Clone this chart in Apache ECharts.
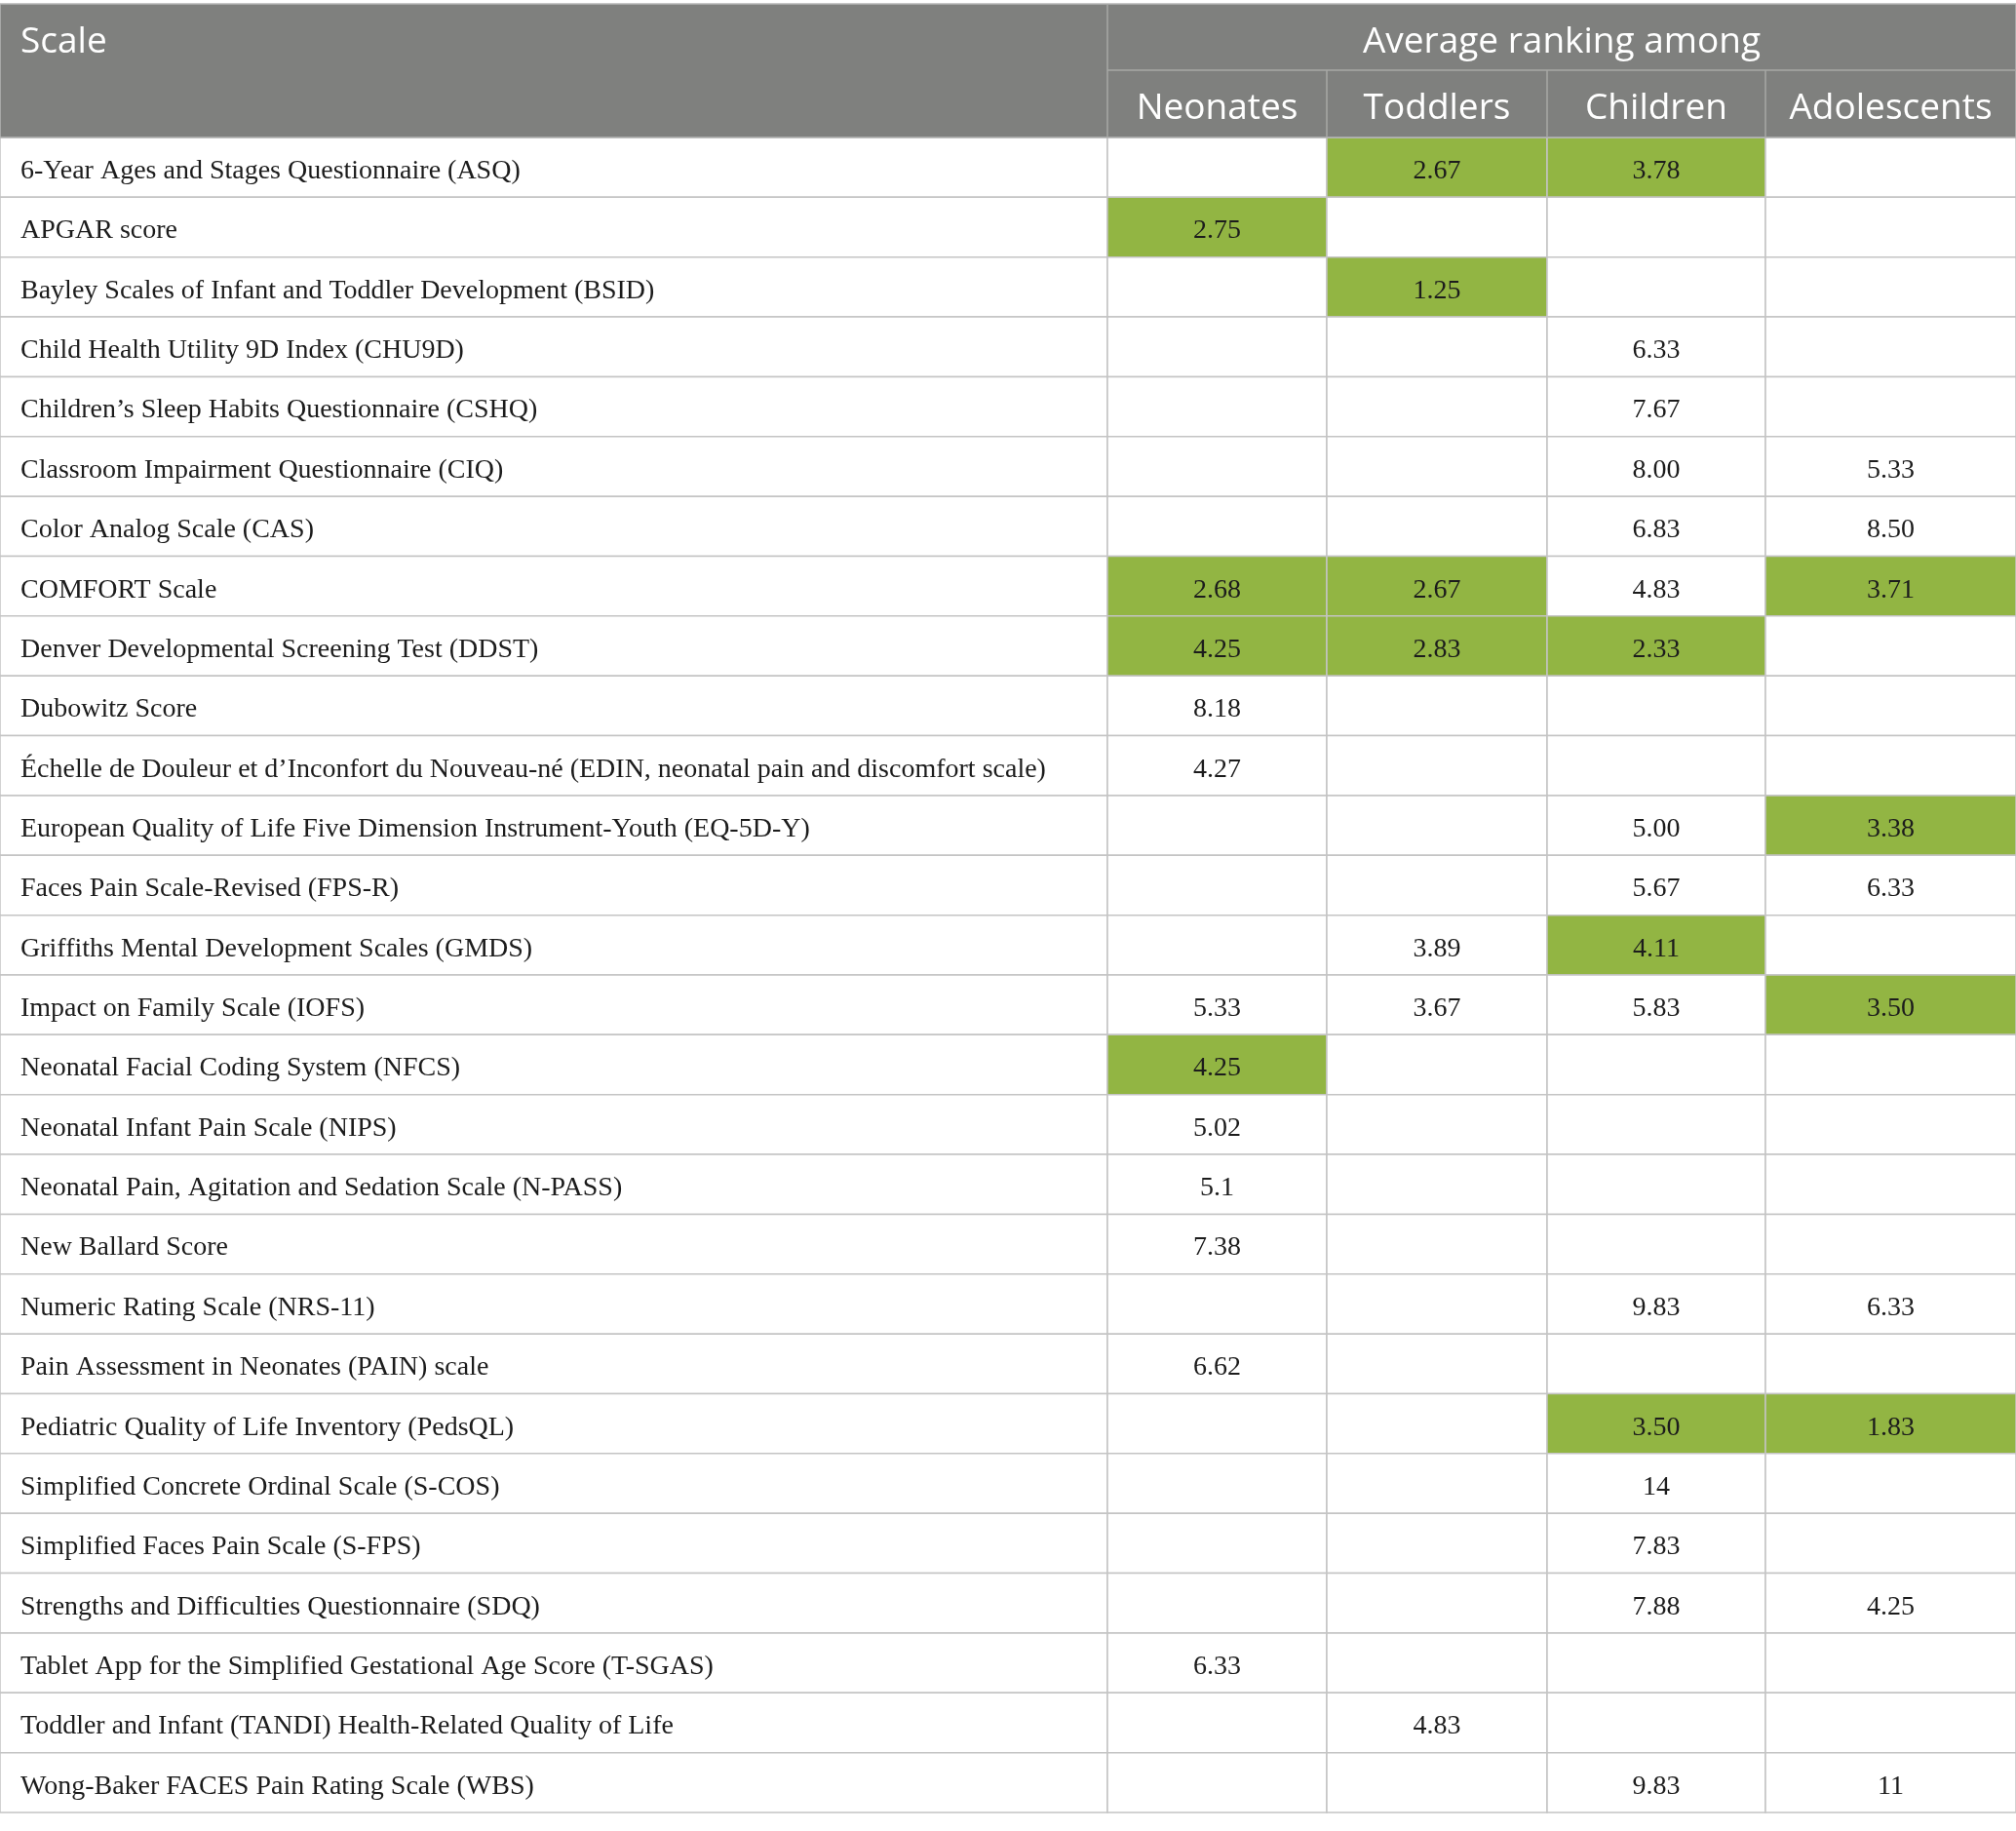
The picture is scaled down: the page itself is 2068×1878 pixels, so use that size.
<!DOCTYPE html>
<html>
<head>
<meta charset="utf-8">
<title>Average ranking of scales by age group</title>
<script type="text/javascript" src="https://cdn.jsdelivr.net/npm/echarts@6/dist/echarts.min.js"></script>
<style>
  html, body { margin: 0; padding: 0; background: #fff; }
  #table { width: 2068px; height: 1878px; }
</style>
</head>
<body>
<div id="table"></div>
<script type="text/javascript">
    // row labels (scales)
    var scales = [
        '6-Year Ages and Stages Questionnaire (ASQ)',
        'APGAR score',
        'Bayley Scales of Infant and Toddler Development (BSID)',
        'Child Health Utility 9D Index (CHU9D)',
        'Children\u2019s Sleep Habits Questionnaire (CSHQ)',
        'Classroom Impairment Questionnaire (CIQ)',
        'Color Analog Scale (CAS)',
        'COMFORT Scale',
        'Denver Developmental Screening Test (DDST)',
        'Dubowitz Score',
        '\u00c9chelle de Douleur et d\u2019Inconfort du Nouveau-n\u00e9 (EDIN, neonatal pain and discomfort scale)',
        'European Quality of Life Five Dimension Instrument-Youth (EQ-5D-Y)',
        'Faces Pain Scale-Revised (FPS-R)',
        'Griffiths Mental Development Scales (GMDS)',
        'Impact on Family Scale (IOFS)',
        'Neonatal Facial Coding System (NFCS)',
        'Neonatal Infant Pain Scale (NIPS)',
        'Neonatal Pain, Agitation and Sedation Scale (N-PASS)',
        'New Ballard Score',
        'Numeric Rating Scale (NRS-11)',
        'Pain Assessment in Neonates (PAIN) scale',
        'Pediatric Quality of Life Inventory (PedsQL)',
        'Simplified Concrete Ordinal Scale (S-COS)',
        'Simplified Faces Pain Scale (S-FPS)',
        'Strengths and Difficulties Questionnaire (SDQ)',
        'Tablet App for the Simplified Gestational Age Score (T-SGAS)',
        'Toddler and Infant (TANDI) Health-Related Quality of Life',
        'Wong-Baker FACES Pain Rating Scale (WBS)'
    ];

    var groups = ['Neonates', 'Toddlers', 'Children', 'Adolescents'];

    // average ranking per group, as printed (null = empty cell)
    var neonates = [null, '2.75', null, null, null, null, null, '2.68', '4.25', '8.18',
        '4.27', null, null, null, '5.33', '4.25', '5.02', '5.1', '7.38', null,
        '6.62', null, null, null, null, '6.33', null, null];
    var toddlers = ['2.67', null, '1.25', null, null, null, null, '2.67', '2.83', null,
        null, null, null, '3.89', '3.67', null, null, null, null, null,
        null, null, null, null, null, null, '4.83', null];
    var children = ['3.78', null, null, '6.33', '7.67', '8.00', '6.83', '4.83', '2.33', null,
        null, '5.00', '5.67', '4.11', '5.83', null, null, null, null, '9.83',
        null, '3.50', '14', '7.83', '7.88', null, null, '9.83'];
    var adolescents = [null, null, null, null, null, '5.33', '8.50', '3.71', null, null,
        null, '3.38', '6.33', null, '3.50', null, null, null, null, '6.33',
        null, '1.83', null, null, '4.25', null, null, '11'];

    // highlighted (green) cells, 1 = highlighted
    var neonatesTop =    [0,1,0,0,0,0,0,1,1,0, 0,0,0,0,0,1,0,0,0,0, 0,0,0,0,0,0,0,0];
    var toddlersTop =    [1,0,1,0,0,0,0,1,1,0, 0,0,0,0,0,0,0,0,0,0, 0,0,0,0,0,0,0,0];
    var childrenTop =    [1,0,0,0,0,0,0,0,1,0, 0,0,0,1,0,0,0,0,0,0, 0,1,0,0,0,0,0,0];
    var adolescentsTop = [0,0,0,0,0,0,0,1,0,0, 0,1,0,0,1,0,0,0,0,0, 0,1,0,0,0,0,0,0];

    var groupValues = [neonates, toddlers, children, adolescents];
    var groupTop = [neonatesTop, toddlersTop, childrenTop, adolescentsTop];

    // layout (px)
    var colEdges = [0, 1136, 1361, 1587, 1811, 2068];
    var headTop = 4, headMid = 72, bodyTop = 141, bodyBottom = 1859;

    var GREEN = '#92b543';
    var HEAD = '#7f807e';
    var LINE = '#c4c4c4';
    var HEADLINE = '#a7a8a6';
    var serif = '28px "Liberation Serif", "DejaVu Serif", serif';
    var sans = '37px "Open Sans", "Noto Sans", sans-serif';

    var grids = [], xAxes = [], yAxes = [], series = [];

    for (var c = 0; c < 5; c++) {
        grids.push({
            left: colEdges[c],
            top: bodyTop,
            width: colEdges[c + 1] - colEdges[c],
            height: bodyBottom - bodyTop
        });
        xAxes.push({
            type: 'category', gridIndex: c, show: false,
            data: [c === 0 ? 'Scale' : groups[c - 1]]
        });
        yAxes.push({
            type: 'category', gridIndex: c, show: false, inverse: true,
            data: scales
        });
        series.push({
            type: 'custom',
            xAxisIndex: c,
            yAxisIndex: c,
            encode: { x: 0, y: 1 },
            data: scales.map(function (s, r) { return [0, r]; }),
            renderItem: (function (col) {
                return function (params, api) {
                    var r = params.dataIndex;
                    var p = api.coord([0, r]);
                    var size = api.size([1, 1]);
                    var x = p[0] - size[0] / 2, y = p[1] - size[1] / 2;
                    var text, fill = '#fff', align = 'center', tx = p[0];
                    if (col === 0) {
                        text = scales[r];
                        align = 'left';
                        tx = x + 21;
                    } else {
                        text = groupValues[col - 1][r] || '';
                        if (groupTop[col - 1][r]) fill = GREEN;
                    }
                    return {
                        type: 'group',
                        children: [{
                            type: 'rect',
                            shape: { x: x, y: y, width: size[0], height: size[1] },
                            style: { fill: fill, stroke: LINE, lineWidth: 1.5 }
                        }, {
                            type: 'text',
                            style: {
                                text: text, x: tx, y: p[1] + 4,
                                font: serif, fill: '#1c1c1c',
                                align: align, verticalAlign: 'middle'
                            }
                        }]
                    };
                };
            })(c)
        });
    }

    // header band
    var graphic = [{
        type: 'rect', z: 10,
        shape: { x: 0, y: headTop, width: colEdges[5], height: bodyTop - headTop },
        style: { fill: HEAD, stroke: '#b5b5b5', lineWidth: 1.5 }
    }, {
        type: 'line', z: 11,
        shape: { x1: colEdges[1], y1: headTop, x2: colEdges[1], y2: bodyTop },
        style: { stroke: HEADLINE, lineWidth: 1.5 }
    }, {
        type: 'line', z: 11,
        shape: { x1: colEdges[1], y1: headMid, x2: colEdges[5], y2: headMid },
        style: { stroke: HEADLINE, lineWidth: 1.5 }
    }, {
        type: 'text', z: 12,
        style: { text: 'Scale', x: 21, y: (headTop + headMid) / 2 + 5, font: sans, fill: '#fff',
            align: 'left', verticalAlign: 'middle' }
    }, {
        type: 'text', z: 12,
        style: { text: 'Average ranking among', x: (colEdges[1] + colEdges[5]) / 2, y: (headTop + headMid) / 2 + 5,
            font: sans, fill: '#fff', align: 'center', verticalAlign: 'middle' }
    }];
    for (var g = 0; g < groups.length; g++) {
        if (g > 0) {
            graphic.push({
                type: 'line', z: 11,
                shape: { x1: colEdges[g + 1], y1: headMid, x2: colEdges[g + 1], y2: bodyTop },
                style: { stroke: HEADLINE, lineWidth: 1.5 }
            });
        }
        graphic.push({
            type: 'text', z: 12,
            style: { text: groups[g], x: (colEdges[g + 1] + colEdges[g + 2]) / 2, y: (headMid + bodyTop) / 2 + 5,
                font: sans, fill: '#fff', align: 'center', verticalAlign: 'middle' }
        });
    }

    var option = {
        backgroundColor: '#fff',
        animation: false,
        grid: grids,
        xAxis: xAxes,
        yAxis: yAxes,
        graphic: graphic,
        series: series
    };

    var chart = echarts.init(document.getElementById('table'));
    chart.setOption(option);
</script>
</body>
</html>
